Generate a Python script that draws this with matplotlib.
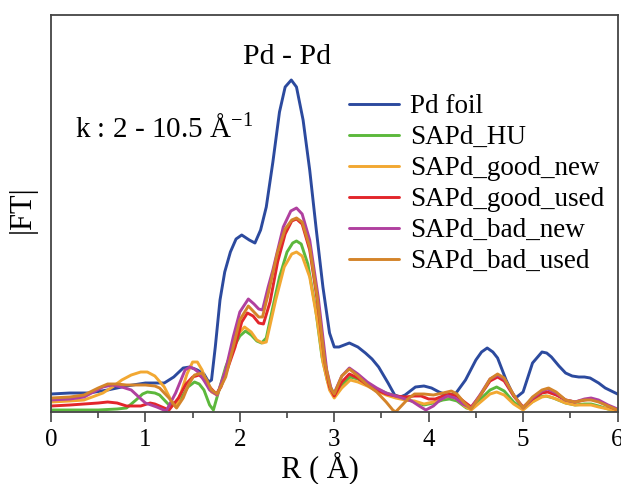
import matplotlib
matplotlib.use("Agg")
import matplotlib.pyplot as plt
from matplotlib.ticker import MultipleLocator

plt.rcParams['font.family'] = ['Liberation Serif', 'DejaVu Serif']
plt.rcParams['mathtext.fontset'] = 'custom'
plt.rcParams['mathtext.rm'] = 'Liberation Serif'

labels = ["Pd foil", "SAPd_HU", "SAPd_good_new", "SAPd_good_used", "SAPd_bad_new", "SAPd_bad_used"]
colors = ["#2c4a9e", "#5cb83c", "#f2a832", "#e2262b", "#b0409f", "#d4842a"]

r_foil = [0.0, 0.2, 0.4, 0.6, 0.8, 1.0, 1.1, 1.2, 1.3, 1.4, 1.47, 1.55, 1.62, 1.67, 1.70, 1.74, 1.79, 1.84, 1.90,
          1.96, 2.02, 2.10, 2.16, 2.22, 2.28, 2.35, 2.42, 2.48, 2.545, 2.60, 2.67, 2.74, 2.81, 2.88, 2.95, 3.00,
          3.05, 3.16, 3.25, 3.33, 3.40, 3.47, 3.57, 3.64, 3.70, 3.75, 3.86, 3.95, 4.03, 4.11, 4.22, 4.29, 4.39,
          4.50, 4.56, 4.62, 4.68, 4.73, 4.82, 4.88, 4.92, 5.00, 5.10, 5.20, 5.25, 5.30, 5.38, 5.45, 5.52, 5.59,
          5.65, 5.71, 5.80, 5.87, 6.0]
ft_foil = [18, 19, 19, 22, 26, 29, 29, 29, 35, 44, 45, 42, 38, 30, 32, 65, 112, 140, 160,
           173, 177, 172, 169, 182, 205, 250, 300, 325, 332, 325, 292, 242, 182, 125, 79, 65,
           65, 69, 65, 59, 53, 45, 29, 17, 15, 17, 25, 26, 24, 20, 16, 19, 32,
           52, 60, 64, 60, 54, 32, 20, 14, 20, 49, 60, 59, 55, 46, 39, 36, 35,
           35, 34, 29, 24, 18]

r_hu = [0.0, 0.3, 0.5, 0.7, 0.8, 0.9, 0.97, 1.02, 1.1, 1.15, 1.25, 1.33, 1.4, 1.45, 1.52, 1.57, 1.62, 1.68, 1.72,
        1.78, 1.85, 1.92, 2.00, 2.06, 2.12, 2.18, 2.23, 2.28, 2.35, 2.42, 2.5, 2.56, 2.6, 2.65, 2.72, 2.8, 2.87,
        2.93, 3.0, 3.08, 3.17, 3.25, 3.35, 3.45, 3.55, 3.65, 3.75, 3.85, 3.95, 4.05, 4.15, 4.22, 4.3, 4.4, 4.45,
        4.55, 4.65, 4.72, 4.8, 4.9, 5.0, 5.08, 5.17, 5.24, 5.32, 5.45, 5.55, 5.65, 5.72, 5.8, 5.9, 6.0]
ft_hu = [2, 2, 2, 3, 4, 12, 18, 20, 19, 17, 7, 10, 17, 25, 30, 28, 22, 7, 2,
         22, 45, 62, 76, 81, 77, 71, 69, 74, 105, 135, 160, 169, 171, 168, 148, 105, 55,
         30, 18, 27, 35, 33, 28, 23, 19, 16, 13, 10, 7, 9, 12, 13, 11, 4, 3,
         13, 22, 25, 21, 10, 3, 9, 15, 16, 14, 9, 7, 8, 8, 6, 3, 1]

r_gnew = [0.0, 0.2, 0.35, 0.55, 0.65, 0.75, 0.85, 0.95, 1.02, 1.1, 1.2, 1.27, 1.32, 1.38, 1.44, 1.5, 1.55, 1.6,
          1.65, 1.7, 1.76, 1.82, 1.9, 1.98, 2.05, 2.12, 2.18, 2.24, 2.28, 2.38, 2.47, 2.55, 2.6, 2.66, 2.74, 2.82,
          2.88, 2.95, 3.0, 3.08, 3.17, 3.25, 3.35, 3.45, 3.55, 3.65, 3.75, 3.85, 3.95, 4.05, 4.15, 4.22, 4.3, 4.38,
          4.45, 4.55, 4.65, 4.72, 4.8, 4.9, 5.0, 5.1, 5.2, 5.26, 5.35, 5.45, 5.55, 5.65, 5.72, 5.8, 5.9, 6.0]
ft_gnew = [10, 11, 12, 19, 25, 32, 37, 40, 40, 36, 25, 12, 5, 20, 38, 50, 50, 42,
           29, 20, 17, 32, 58, 78, 85, 80, 72, 69, 70, 112, 145, 158, 160, 156, 135, 92,
           50, 22, 14, 24, 32, 30, 26, 21, 17, 14, 12, 11, 8, 10, 14, 16, 13, 6,
           2, 10, 18, 20, 17, 8, 2, 10, 15, 16, 13, 9, 7, 7, 7, 5, 3, 1]

r_gused = [0.0, 0.2, 0.35, 0.5, 0.6, 0.7, 0.8, 0.9, 0.95, 1.05, 1.1, 1.15, 1.25, 1.35, 1.43, 1.5, 1.57, 1.63,
           1.68, 1.75, 1.8, 1.85, 1.95, 2.02, 2.08, 2.14, 2.2, 2.25, 2.32, 2.4, 2.48, 2.55, 2.6, 2.66, 2.74, 2.82,
           2.9, 2.95, 3.0, 3.08, 3.16, 3.25, 3.35, 3.45, 3.55, 3.65, 3.75, 3.85, 3.92, 4.0, 4.07, 4.15, 4.22, 4.3,
           4.38, 4.45, 4.55, 4.65, 4.73, 4.8, 4.9, 5.0, 5.1, 5.2, 5.26, 5.35, 5.45, 5.55, 5.65, 5.72, 5.8, 5.9, 6.0]
ft_gused = [6, 7, 8, 9, 10, 9, 6, 6, 6, 9, 8, 6, 2, 14, 28, 35, 37, 32,
            25, 18, 25, 38, 65, 90, 99, 96, 89, 88, 110, 150, 178, 191, 193, 188, 162, 112,
            50, 25, 16, 30, 38, 34, 27, 22, 18, 16, 15, 16, 16, 13, 13, 16, 18, 16,
            10, 5, 17, 31, 35, 31, 16, 5, 13, 19, 20, 17, 12, 10, 12, 13, 11, 6, 2]

r_bnew = [0.0, 0.2, 0.35, 0.45, 0.55, 0.65, 0.75, 0.85, 0.93, 1.0, 1.12, 1.22, 1.32, 1.42, 1.47, 1.52, 1.57, 1.63,
          1.68, 1.76, 1.85, 1.93, 2.0, 2.09, 2.15, 2.2, 2.24, 2.3, 2.35, 2.46, 2.54, 2.6, 2.66, 2.74, 2.83, 2.92,
          2.97, 3.0, 3.08, 3.16, 3.25, 3.35, 3.45, 3.55, 3.65, 3.75, 3.82, 3.9, 3.97, 4.05, 4.12, 4.2, 4.28, 4.36,
          4.45, 4.55, 4.65, 4.73, 4.8, 4.9, 5.0, 5.1, 5.2, 5.26, 5.35, 5.45, 5.55, 5.65, 5.72, 5.8, 5.9, 6.0]
ft_bnew = [12, 13, 15, 20, 25, 27, 25, 22, 15, 9, 5, 1, 19, 42, 45, 43, 39, 30,
           22, 17, 42, 75, 100, 113, 108, 103, 102, 125, 142, 185, 201, 204, 198, 172, 115, 42,
           22, 19, 36, 44, 38, 30, 24, 19, 16, 13, 11, 6, 2, 6, 12, 16, 14, 8,
           4, 18, 33, 37, 33, 17, 4, 14, 21, 23, 19, 12, 10, 13, 14, 12, 7, 3]

r_bused = [0.0, 0.2, 0.35, 0.5, 0.6, 0.7, 0.8, 0.9, 1.0, 1.1, 1.15, 1.25, 1.33, 1.4, 1.46, 1.52, 1.6, 1.65,
           1.7, 1.76, 1.85, 1.93, 2.0, 2.09, 2.15, 2.2, 2.24, 2.3, 2.4, 2.48, 2.55, 2.6, 2.66, 2.74, 2.82, 2.9,
           2.96, 3.0, 3.08, 3.16, 3.25, 3.35, 3.45, 3.55, 3.62, 3.65, 3.7, 3.78, 3.85, 3.95, 4.05, 4.15, 4.24, 4.3,
           4.38, 4.45, 4.55, 4.65, 4.73, 4.8, 4.9, 5.0, 5.1, 5.2, 5.27, 5.35, 5.45, 5.55, 5.65, 5.72, 5.8, 5.9, 6.0]
ft_bused = [14, 15, 17, 24, 28, 28, 27, 27, 27, 26, 24, 14, 4, 14, 28, 37, 39, 32,
            22, 18, 35, 65, 92, 106, 100, 95, 95, 118, 160, 183, 192, 194, 190, 165, 115, 50,
            24, 18, 36, 43, 36, 27, 20, 10, 2, 0, 5, 13, 18, 18, 17, 19, 21, 18,
            9, 3, 17, 33, 38, 34, 17, 4, 15, 22, 24, 20, 12, 10, 12, 12, 10, 6, 2]

xs = [r_foil, r_hu, r_gnew, r_gused, r_bnew, r_bused]
ys = [ft_foil, ft_hu, ft_gnew, ft_gused, ft_bnew, ft_bused]

fig = plt.figure(figsize=(6.21, 4.84), dpi=100)
ax = fig.add_axes([51 / 621, 1 - 412 / 484, (617.5 - 51) / 621, (412 - 15) / 484])

for x, y, c, lab in zip(xs, ys, colors, labels):
    ax.plot(x, y, color=c, lw=2.1, label=lab, solid_joinstyle='round', solid_capstyle='round')

ax.set_xlim(0, 6)
ax.set_ylim(0, 397)
ax.xaxis.set_major_locator(MultipleLocator(1))
ax.xaxis.set_minor_locator(MultipleLocator(0.5))
ax.set_yticks([])
ax.tick_params(axis='x', which='major', direction='out', length=7, width=1.2, color='#444444',
               labelsize=18, pad=5)
ax.tick_params(axis='x', which='minor', direction='out', length=4, width=1.2, color='#444444')
for s in ax.spines.values():
    s.set_color('#444444')
    s.set_linewidth(1.3)

ax.set_xlabel("R ( Å)", fontsize=22, va='center')
ax.xaxis.set_label_coords(0.475, -0.14)
ax.set_ylabel("|FT|", fontsize=22, va='center')
ax.yaxis.set_label_coords(-0.05, 0.51)

ax.text(2.5, 355, "Pd - Pd", fontsize=21.5, ha='center', va='center')
ax.text(0.25, 284, r"k : 2 - 10.5 Å$^{\mathregular{-1}}$", fontsize=21, ha='left', va='center')

leg = ax.legend(loc='upper left', bbox_to_anchor=(0.526, 0.80), frameon=False, fontsize=19.5,
                handlelength=1.85, handletextpad=0.4, labelspacing=0.22, borderpad=0, borderaxespad=0)

fig.savefig("out.png", dpi=100)
